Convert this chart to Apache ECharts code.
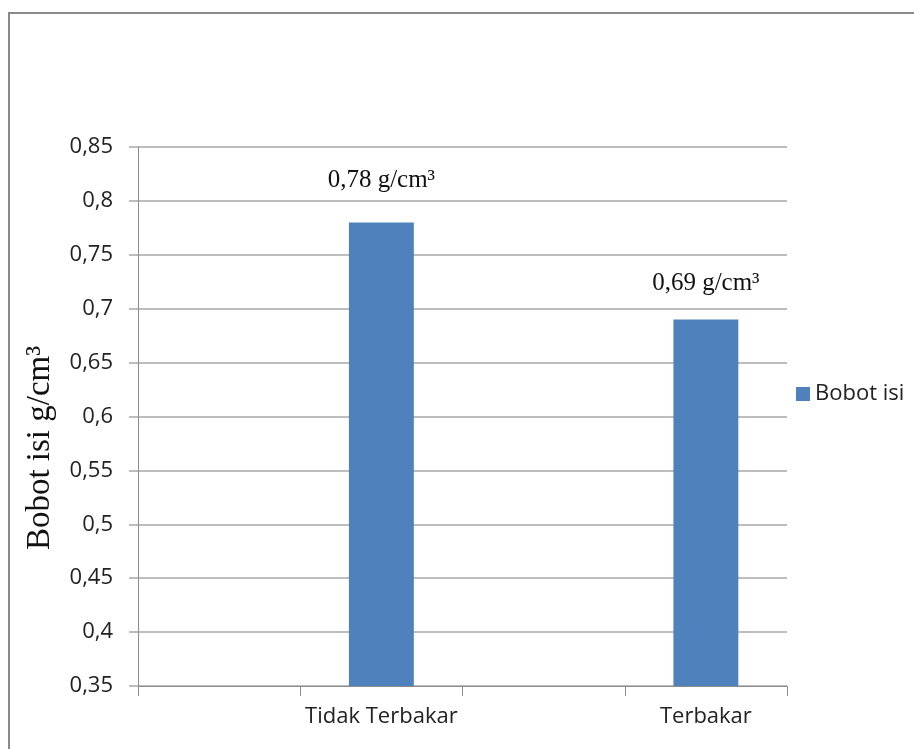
<!DOCTYPE html>
<html><head><meta charset="utf-8">
<script src="https://cdn.jsdelivr.net/npm/echarts@6/dist/echarts.min.js"></script>
<style>
html,body{margin:0;padding:0;background:#fff;overflow:hidden}
#frame{position:absolute;left:8px;top:12px;width:1000px;height:800px;border:2px solid #8a8a8a;box-sizing:border-box}
#c{position:absolute;left:0;top:0;width:914px;height:749px}
</style></head>
<body>
<div id="frame"></div>
<div id="c"></div>
<script>
const categories = ['', 'Tidak Terbakar', '', 'Terbakar'];
const values = [null, 0.78, null, 0.69];
const seriesName = 'Bobot isi';
const yTitle = 'Bobot isi g/cm\u00B3';
const yMin = 0.35, yMax = 0.85, yStep = 0.05;

const labelDistance = [0, 30, 0, 24];
const chart = echarts.init(document.getElementById('c'), null, {renderer:'canvas'});
const fmt = v => String(Math.round(v*100)/100).replace('.', ',');
chart.setOption({
  animation:false,
  backgroundColor:'transparent',
  grid:{left:138, right:127, top:147, bottom:63, containLabel:false},
  legend:{
    data:[seriesName], left:791, top:378, orient:'vertical',
    itemWidth:14, itemHeight:14, icon:'rect', itemGap:6,
    textStyle:{fontFamily:'Open Sans', fontSize:22, color:'#222'}
  },
  graphic:[{
    type:'text', x:40, y:448, rotation:Math.PI/2,
    style:{text:yTitle, font:'33px "Liberation Serif"', fill:'#111', align:'center', verticalAlign:'middle'}
  }],
  xAxis:{
    type:'category', data:categories,
    axisLine:{lineStyle:{color:'#8c8c8c', width:1}},
    axisTick:{show:true, alignWithLabel:false, length:10, lineStyle:{color:'#8c8c8c'}},
    axisLabel:{interval:0, margin:20, fontFamily:'Open Sans', fontSize:22, color:'#222'}
  },
  yAxis:{
    type:'value', min:yMin, max:yMax, interval:yStep,
    axisLine:{show:true, lineStyle:{color:'#8c8c8c', width:1}},
    axisTick:{show:true, length:9, lineStyle:{color:'#bdbdbd', width:2}},
    splitLine:{show:true, lineStyle:{color:'#bdbdbd', width:2}},
    axisLabel:{margin:25, fontFamily:'Open Sans', fontSize:22, color:'#222', formatter:fmt}
  },
  series:[{
    name:seriesName, type:'bar', barWidth:'40%',
    data:values.map((v,i) => ({value:v, label:{distance:labelDistance[i]}})),
    itemStyle:{color:'#4F81BD'},
    label:{
      show:true, position:'top',
      fontFamily:'Liberation Serif', fontSize:25, color:'#111',
      formatter:p => fmt(p.value) + ' g/cm\u00B3'
    }
  }]
});
</script>
</body></html>
